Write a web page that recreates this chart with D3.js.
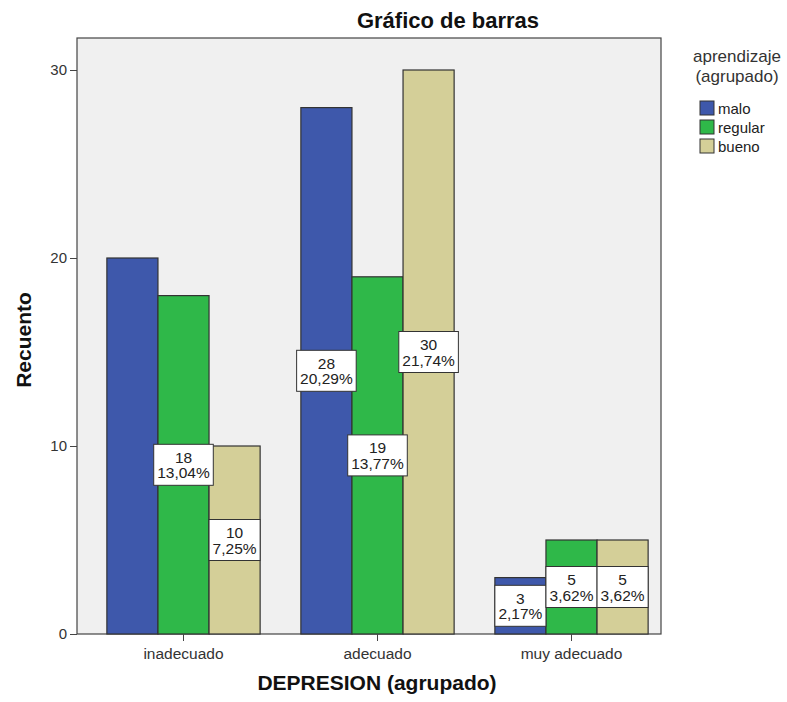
<!DOCTYPE html>
<html><head><meta charset="utf-8">
<script src="https://cdn.jsdelivr.net/npm/d3@7"></script>
<style>body{margin:0;background:#fff}svg{display:block;font-family:"Liberation Sans",Arial,sans-serif}</style>
</head><body><svg id="c" width="787" height="702"></svg>
<script>
const categories = ["inadecuado", "adecuado", "muy adecuado"];
const seriesNames = ["malo", "regular", "bueno"];
const malo = [20, 28, 3];
const regular = [18, 19, 5];
const bueno = [10, 30, 5];
const yTicks = [0, 10, 20, 30];
const hiddenLabels = [["inadecuado", "malo"]];
const colors = ["#3e58ab", "#2fb849", "#d4cf98"];

const seriesValues = [malo, regular, bueno];
const total = d3.sum(seriesValues.flat());
const svg = d3.select("#c");
const plot = {l: 77, r: 661, t: 38, b: 634};
const FF = "Liberation Sans, Arial, sans-serif";

const y = d3.scaleLinear().domain([0, 30]).range([634, 70]);
const x0 = d3.scaleBand().domain(categories).range([86.5, 668.5]).paddingInner(0.21).paddingOuter(0.105);
const x1 = d3.scaleBand().domain(seriesNames).range([0, x0.bandwidth()]);

svg.append("rect").attr("x", plot.l).attr("y", plot.t).attr("width", plot.r - plot.l).attr("height", plot.b - plot.t)
  .attr("fill", "#f0f0f0").attr("stroke", "#444").attr("stroke-width", 1.2);

svg.append("text").attr("x", 448).attr("y", 28).attr("text-anchor", "middle")
  .attr("font-size", 22).attr("font-weight", "bold").attr("fill", "#111").text("Gráfico de barras");

const data = [];
categories.forEach((c, i) => seriesNames.forEach((s, j) => data.push({c, s, v: seriesValues[j][i], j})));

svg.append("g").selectAll("rect").data(data).join("rect")
  .attr("x", d => x0(d.c) + x1(d.s)).attr("width", x1.bandwidth())
  .attr("y", d => y(d.v)).attr("height", d => y(0) - y(d.v))
  .attr("fill", d => colors[d.j]).attr("stroke", "#333").attr("stroke-width", 1.2);

const fmt = v => (v / total * 100).toFixed(2).replace(".", ",") + "%";
const lab = svg.append("g");
data.filter(d => !hiddenLabels.some(h => h[0] === d.c && h[1] === d.s)).forEach(d => {
  const cx = x0(d.c) + x1(d.s) + x1.bandwidth() / 2;
  const cy = y(d.v / 2);
  const g = lab.append("g");
  const box = g.append("rect");
  const t1 = g.append("text").attr("x", cx).attr("y", cy - 2).attr("text-anchor", "middle").attr("font-size", 15.5).attr("fill", "#222").text(d.v);
  const t2 = g.append("text").attr("x", cx).attr("y", cy + 13.5).attr("text-anchor", "middle").attr("font-size", 15.5).attr("fill", "#222").text(fmt(d.v));
  const tw = Math.max(t1.node().getComputedTextLength(), t2.node().getComputedTextLength());
  const w = Math.max(x1.bandwidth(), tw + 7), h = 41;
  box.attr("x", cx - w / 2).attr("y", cy - h / 2).attr("width", w).attr("height", h)
    .attr("fill", "#fff").attr("stroke", "#333").attr("stroke-width", 1);
});

const ya = svg.append("g").attr("transform", `translate(${plot.l},0)`)
  .call(d3.axisLeft(y).tickValues(yTicks).tickSize(7).tickPadding(3));
ya.select(".domain").remove();
ya.selectAll("line").attr("stroke", "#444");
ya.selectAll("text").attr("font-size", 15).attr("fill", "#333").attr("font-family", FF);

const xa = svg.append("g").attr("transform", `translate(0,${plot.b})`)
  .call(d3.axisBottom(x0).tickSize(7).tickPadding(7));
xa.select(".domain").remove();
xa.selectAll("line").attr("stroke", "#444");
xa.selectAll("text").attr("font-size", 15.5).attr("fill", "#333").attr("font-family", FF);

svg.append("text").attr("transform", "translate(31,340) rotate(-90)").attr("text-anchor", "middle")
  .attr("font-size", 21).attr("font-weight", "bold").attr("fill", "#111").text("Recuento");
svg.append("text").attr("x", 377).attr("y", 690).attr("text-anchor", "middle")
  .attr("font-size", 21).attr("font-weight", "bold").attr("fill", "#111").text("DEPRESION (agrupado)");

const lg = svg.append("g");
lg.append("text").attr("x", 737).attr("y", 62).attr("text-anchor", "middle").attr("font-size", 17).attr("fill", "#333").text("aprendizaje");
lg.append("text").attr("x", 737).attr("y", 82).attr("text-anchor", "middle").attr("font-size", 17).attr("fill", "#333").text("(agrupado)");
seriesNames.forEach((s, j) => {
  lg.append("rect").attr("x", 700).attr("y", 101 + j * 19).attr("width", 14).attr("height", 14)
    .attr("fill", colors[j]).attr("stroke", "#333").attr("stroke-width", 1);
  lg.append("text").attr("x", 718).attr("y", 113.5 + j * 19).attr("font-size", 15).attr("fill", "#222").text(s);
});
</script></body></html>
